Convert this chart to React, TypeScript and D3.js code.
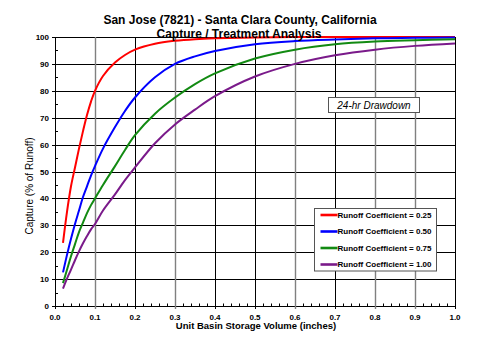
import React from "react";
import * as d3 from "d3";

const xValues = [0.02, 0.03, 0.04, 0.05, 0.06, 0.07, 0.08, 0.09, 0.1, 0.12, 0.15, 0.175, 0.2, 0.25, 0.3, 0.35, 0.4, 0.5, 0.6, 0.7, 0.8, 0.9, 1.0];
const c025 = [23.5, 35, 44.5, 51.5, 58.5, 65, 71, 76, 80, 85.5, 90.5, 93.3, 95.3, 97.5, 98.6, 99.2, 99.5, 99.8, 100, 100, 100, 100, 100];
const c050 = [12.5, 19, 25, 30.5, 35.5, 40.5, 44.5, 48.5, 52, 58.5, 66.5, 72.5, 77.5, 85, 90, 92.8, 94.8, 97.3, 98.5, 99.1, 99.5, 99.7, 99.8];
const c075 = [8.5, 13.5, 18.5, 23, 27.5, 31, 34.5, 37.5, 40, 45, 52, 58, 63.5, 71.5, 77.5, 82.5, 86.5, 92, 95.3, 97.3, 98.3, 98.8, 99.2];
const c100 = [6.5, 10.2, 13.5, 17, 20.3, 23.3, 26, 28.5, 30.5, 35.5, 41.5, 46.8, 51.5, 60.5, 67.5, 73, 78, 85.3, 90, 93.2, 95.3, 96.7, 97.6];
const seriesLabels = ["Runoff Coefficient = 0.25", "Runoff Coefficient = 0.50", "Runoff Coefficient = 0.75", "Runoff Coefficient = 1.00"];
const seriesColors = ["#ff0000", "#0000ff", "#128a12", "#7a1a8a"];
const xTicks = [0, 0.1, 0.2, 0.3, 0.4, 0.5, 0.6, 0.7, 0.8, 0.9, 1.0];
const yTicks = [0, 10, 20, 30, 40, 50, 60, 70, 80, 90, 100];

const FONT = "'Liberation Sans', Arial, sans-serif";

export default function App() {
  const W = 494, H = 356;
  const x = d3.scaleLinear().domain([0, 1]).range([55, 455]);
  const y = d3.scaleLinear().domain([0, 100]).range([306, 37]);
  const series = [c025, c050, c075, c100];
  const line = d3
    .line<number>()
    .x((_, i) => x(xValues[i]))
    .y((v) => y(v))
    .curve(d3.curveCatmullRom.alpha(0.5));

  const greyIdx = new Set([1, 3, 6, 8, 9]);
  const xMinor = d3.range(0, 1.0001, 0.02).filter((v) => Math.abs(v * 10 - Math.round(v * 10)) > 1e-6);
  const yMinor = d3.range(5, 100, 10);

  const [x0, x1] = x.range();
  const [yb, yt] = y.range();

  return (
    <svg width={W} height={H} style={{ position: "absolute", left: 0, top: 0, background: "#fff" }} fontFamily={FONT}>
      <rect x={0} y={0} width={W} height={H} fill="#fff" />
      {/* horizontal grid */}
      {yTicks.map((t) => (
        <line key={"h" + t} x1={x0 - 3} x2={x1} y1={Math.round(y(t)) + 0.5} y2={Math.round(y(t)) + 0.5} stroke="#000" strokeWidth={1} />
      ))}
      {/* vertical grid */}
      {xTicks.map((t, i) => (
        <line
          key={"v" + t}
          x1={Math.round(x(t)) + 0.5}
          x2={Math.round(x(t)) + 0.5}
          y1={yt}
          y2={yb + 3}
          stroke={greyIdx.has(i) ? "#808080" : "#000"}
          strokeWidth={greyIdx.has(i) ? 1.4 : 1}
        />
      ))}
      {/* minor ticks */}
      {xMinor.map((t) => (
        <line key={"xm" + t} x1={Math.round(x(t)) + 0.5} x2={Math.round(x(t)) + 0.5} y1={yb} y2={yb - 2.5} stroke="#000" strokeWidth={1} />
      ))}
      {yMinor.map((t) => (
        <line key={"ym" + t} x1={x0} x2={x0 + 3} y1={Math.round(y(t)) + 0.5} y2={Math.round(y(t)) + 0.5} stroke="#000" strokeWidth={1} />
      ))}
      {/* series */}
      {series.map((s, i) => (
        <path key={"s" + i} d={line(s) || ""} fill="none" stroke={seriesColors[i]} strokeWidth={2} />
      ))}
      {/* tick labels */}
      {yTicks.map((t) => (
        <text key={"yl" + t} x={49} y={y(t) + 3} textAnchor="end" fontSize={8} fontWeight="bold">
          {t}
        </text>
      ))}
      {xTicks.map((t) => (
        <text key={"xl" + t} x={x(t)} y={319.5} textAnchor="middle" fontSize={8} fontWeight="bold">
          {t.toFixed(1)}
        </text>
      ))}
      {/* titles */}
      <text x={240} y={24} textAnchor="middle" fontSize={12} fontWeight="bold">
        San Jose (7821) - Santa Clara County, California
      </text>
      <text x={239} y={37.5} textAnchor="middle" fontSize={12} fontWeight="bold">
        Capture / Treatment Analysis
      </text>
      <text x={256} y={328.5} textAnchor="middle" fontSize={9.5} fontWeight="bold">
        Unit Basin Storage Volume (inches)
      </text>
      <text transform="translate(33,186) rotate(-90)" textAnchor="middle" fontSize={10}>
        Capture (% of Runoff)
      </text>
      {/* annotation box */}
      <rect x={328.5} y={97.5} width={91} height={15} fill="#fff" stroke="#555" strokeWidth={1} />
      <text x={374} y={108.5} textAnchor="middle" fontSize={10} fontStyle="italic">
        24-hr Drawdown
      </text>
      {/* legend */}
      <rect x={314.5} y={208.5} width={122} height={62.5} fill="#fff" stroke="#555" strokeWidth={1} />
      {seriesLabels.map((lab, i) => {
        const cy = 215 + i * 16.5;
        return (
          <g key={"lg" + i}>
            <line x1={320.5} x2={337.5} y1={cy} y2={cy} stroke={seriesColors[i]} strokeWidth={2.6} />
            <text x={337.5} y={cy + 2.8} fontSize={8} fontWeight="bold">
              {lab}
            </text>
          </g>
        );
      })}
    </svg>
  );
}
